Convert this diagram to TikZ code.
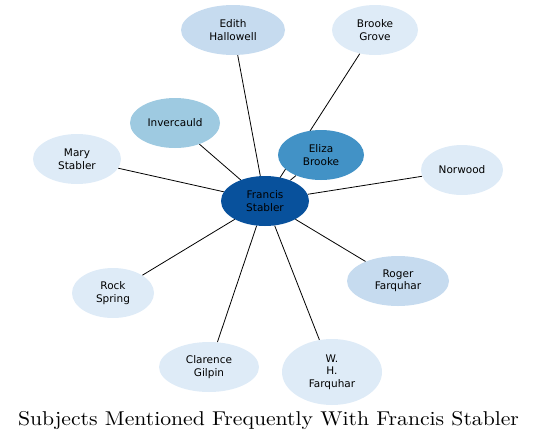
\documentclass[tikz,border=0pt]{standalone}
\usepackage{fontspec}
\newfontfamily\nodefont{DejaVu Sans}
\newfontfamily\titlefont{lmroman10-regular}[Extension=.otf]
\usetikzlibrary{shapes.geometric}
\definecolor{c1}{HTML}{08519C}
\definecolor{c2}{HTML}{4292C6}
\definecolor{c3}{HTML}{9ECAE1}
\definecolor{c4}{HTML}{C6DBEF}
\definecolor{c5}{HTML}{DEEBF7}
\pgfdeclarelayer{bg}
\pgfsetlayers{bg,main}
\tikzset{
  ent/.style={ellipse, inner sep=0pt, font=\nodefont\fontsize{10.5}{12.5}\selectfont, align=center, text=black},
  link/.style={draw=black, line width=0.8pt}
}
\begin{document}
\begin{tikzpicture}[x=1pt,y=-1pt]
\useasboundingbox (0,0) rectangle (537,442);
\node[ent, fill=c1, minimum width=88pt, minimum height=50pt] (fs) at (265,201) {Francis\\Stabler};
\node[ent, fill=c4, minimum width=104pt, minimum height=50pt] (eh) at (233,30) {Edith\\Hallowell};
\node[ent, fill=c5, minimum width=86pt, minimum height=50pt] (bg) at (375,30) {Brooke\\Grove};
\node[ent, fill=c3, minimum width=90pt, minimum height=50pt] (inv) at (175,123) {Invercauld};
\node[ent, fill=c2, minimum width=86pt, minimum height=50pt] (eb) at (321,155) {Eliza\\Brooke};
\node[ent, fill=c5, minimum width=88pt, minimum height=50pt] (ms) at (77,159) {Mary\\Stabler};
\node[ent, fill=c5, minimum width=82pt, minimum height=50pt] (nw) at (462,170) {Norwood};
\node[ent, fill=c5, minimum width=82pt, minimum height=50pt] (rs) at (113,293) {Rock\\Spring};
\node[ent, fill=c4, minimum width=102pt, minimum height=50pt] (rf) at (398,281) {Roger\\Farquhar};
\node[ent, fill=c5, minimum width=100pt, minimum height=50pt] (cg) at (209,367) {Clarence\\Gilpin};
\node[ent, fill=c5, minimum width=100pt, minimum height=66pt] (wh) at (332,372) {W.\\H.\\Farquhar};
\begin{pgfonlayer}{bg}
\draw[link] (fs) -- (eh);
\draw[link] (fs.center) -- (bg);
\draw[link] (fs) -- (inv);
\draw[link] (fs) -- (eb);
\draw[link] (fs) -- (ms);
\draw[link] (fs) -- (nw);
\draw[link] (fs) -- (rs);
\draw[link] (fs) -- (rf);
\draw[link] (fs) -- (cg);
\draw[link] (fs) -- (wh);
\end{pgfonlayer}
\node[font=\titlefont\fontsize{20}{24}\selectfont] (title) at (268.5,420) {\scalebox{1.084}[1]{Subjects Mentioned Frequently With Francis Stabler}};
\end{tikzpicture}
\end{document}
